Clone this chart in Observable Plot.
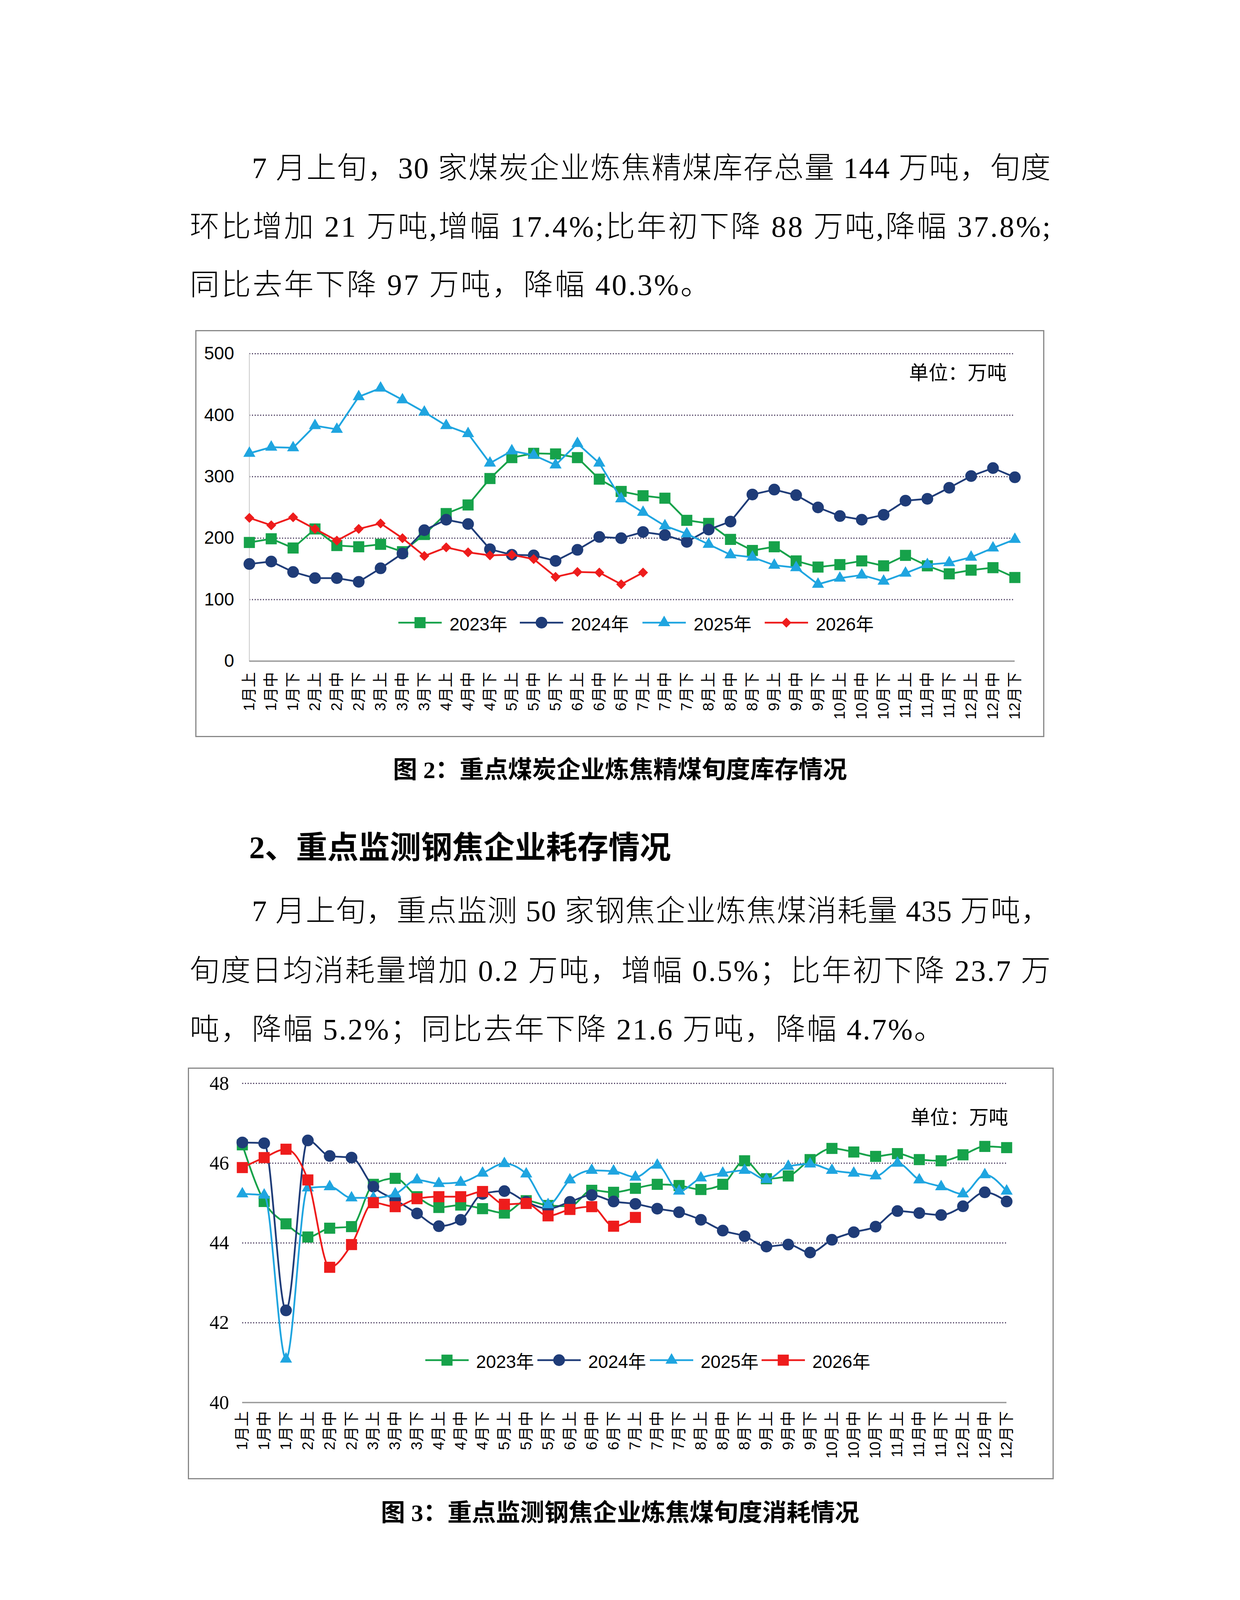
<!DOCTYPE html>
<html>
<head>
<meta charset="utf-8">
<script src="https://cdn.jsdelivr.net/npm/d3@7"></script>
<script src="https://cdn.jsdelivr.net/npm/@observablehq/plot@0.6"></script>
<style>
  html, body { margin: 0; padding: 0; background: #fff; }
  body { width: 3175px; height: 4490px; position: relative; overflow: hidden; }
  .ln { position: absolute; height: 150px; line-height: 150px; white-space: nowrap; font-weight: 300;
        font-size: 76px; font-family: "Liberation Serif", "Noto Sans CJK SC", serif; color: #000; }
  .head { position: absolute; left: 638px; height: 150px; line-height: 150px; font-size: 80px;
          font-weight: bold; font-family: "Liberation Serif", "Noto Sans CJK SC", serif; white-space: nowrap; }
  .cap { position: absolute; left: 0; width: 3175px; text-align: center; height: 150px; line-height: 150px;
         font-size: 62px; font-weight: bold; font-family: "Liberation Serif", "Noto Sans CJK SC", serif; white-space: nowrap; }
  .chart { position: absolute; }
  .frame { position: absolute; left: 0; top: 0; right: 0; bottom: 0; border: 3px solid #888; box-sizing: border-box; pointer-events: none; }
  .chart svg.plot { position: absolute; left: 0; top: 0; }
  .leg { position: absolute; height: 60px; display: flex; align-items: center; white-space: nowrap;
         font-family: "Liberation Sans", "Noto Sans CJK SC", sans-serif; font-size: 46px; color: #000; }
  .leg svg { display: block; }
</style>
</head>
<body>

<div class="ln fit" data-w="2045" style="left:645px; top:355px;"><span>7 月上旬，30 家煤炭企业炼焦精煤库存总量 144 万吨，旬度</span></div>
<div class="ln fit" data-w="2204" style="left:486px; top:505px;"><span>环比增加 21 万吨,增幅 17.4%;比年初下降 88 万吨,降幅 37.8%;</span></div>
<div class="ln" style="left:486px; top:654px;"><span class="nat">同比去年下降 97 万吨，降幅 40.3%。</span></div>

<div class="chart" id="c1" style="left:500px; top:845px; width:2174px; height:1042px;"></div>

<div class="cap" style="top:1896px;">图 2：重点煤炭企业炼焦精煤旬度库存情况</div>

<div class="head" style="top:2095px;">2、重点监测钢焦企业耗存情况</div>

<div class="ln fit" data-w="2045" style="left:645px; top:2257px;"><span>7 月上旬，重点监测 50 家钢焦企业炼焦煤消耗量 435 万吨，</span></div>
<div class="ln fit" data-w="2204" style="left:486px; top:2410px;"><span>旬度日均消耗量增加 0.2 万吨，增幅 0.5%；比年初下降 23.7 万</span></div>
<div class="ln" style="left:486px; top:2560px;"><span class="nat">吨，降幅 5.2%；同比去年下降 21.6 万吨，降幅 4.7%。</span></div>

<div class="chart" id="c2" style="left:481px; top:2733px; width:2217px; height:1054px;"></div>

<div class="cap" style="top:3798px;">图 3：重点监测钢焦企业炼焦煤旬度消耗情况</div>

<script>
// ---------- data ----------
const periods = ["1月上","1月中","1月下","2月上","2月中","2月下","3月上","3月中","3月下",
  "4月上","4月中","4月下","5月上","5月中","5月下","6月上","6月中","6月下",
  "7月上","7月中","7月下","8月上","8月中","8月下","9月上","9月中","9月下",
  "10月上","10月中","10月下","11月上","11月中","11月下","12月上","12月中","12月下"];

const years = ["2023年", "2024年", "2025年", "2026年"];

// Chart 1: 炼焦精煤库存 (万吨)
const inv2023 = [193,199,184,215,188,186,190,178,206,240,254,297,331,338,337,331,296,276,269,265,229,224,198,180,186,163,153,157,163,155,172,155,142,148,152,136];
const inv2024 = [158,162,145,135,135,129,151,175,213,230,223,182,173,172,163,181,202,200,210,205,194,214,227,271,279,270,250,236,230,238,261,264,282,301,314,299];
const inv2025 = [338,348,347,383,377,430,444,425,405,383,370,322,342,335,319,354,322,264,242,220,207,190,173,169,156,152,125,135,140,130,143,157,160,169,184,198];
const inv2026 = [233,221,234,215,196,215,224,200,171,185,177,172,173,166,137,145,144,125,144];
const invTicks = [0,100,200,300,400,500];

// Chart 2: 炼焦煤旬度日均消耗 (万吨)
const con2023 = [46.46,45.04,44.48,44.15,44.37,44.41,45.47,45.62,45.16,44.89,44.95,44.86,44.75,45.06,44.94,44.92,45.32,45.27,45.37,45.47,45.44,45.34,45.47,46.06,45.61,45.68,46.09,46.37,46.28,46.17,46.24,46.09,46.06,46.21,46.42,46.39];
const con2024 = [46.52,46.50,42.31,46.57,46.18,46.14,45.41,45.08,44.74,44.42,44.58,45.23,45.30,45.03,44.86,45.03,45.20,45.04,44.98,44.86,44.77,44.58,44.31,44.17,43.91,43.96,43.76,44.08,44.27,44.41,44.80,44.75,44.70,44.92,45.27,45.04];
const con2025 = [45.23,45.20,41.09,45.38,45.41,45.13,45.13,45.23,45.58,45.49,45.52,45.75,45.99,45.73,44.96,45.58,45.82,45.80,45.65,45.95,45.30,45.63,45.75,45.82,45.59,45.92,45.98,45.82,45.75,45.68,46.00,45.58,45.41,45.23,45.71,45.30];
const con2026 = [45.89,46.14,46.35,45.58,43.39,43.96,45.01,44.91,45.11,45.16,45.16,45.29,44.97,44.99,44.68,44.84,44.91,44.42,44.64];
const conTicks = [40,42,44,46,48];

const unitLabel = "单位：万吨";

// ---------- styles ----------
const colors = ["#16a24a", "#1f3c78", "#1fa5e0", "#ee1c1c"];
const sym1 = [["square",16],["circle",15],["triangle",11.5],["diamond2",11.5]];
const sym2 = [["square",16],["circle",15],["triangle",11.5],["square",16]];

function buildChart(el, o) {
  const marks = [];
  marks.push(Plot.ruleY(o.ticks.slice(1), {stroke: "#564869", strokeWidth: 3, strokeDasharray: "3,4"}));
  if (o.yAxisLine) marks.push(Plot.ruleX([periods[0]], {y1: o.ticks[0], y2: o.ticks[o.ticks.length-1], stroke: "#d2d2d2", strokeWidth: 2.5}));
  marks.push(Plot.ruleY([o.ticks[0]], {stroke: "#9a9a9a", strokeWidth: 3.5}));
  o.series.forEach((vals, k) => {
    const rows = vals.map((v, i) => ({x: periods[i], y: v}));
    marks.push(Plot.line(rows, {x: "x", y: "y", stroke: colors[k], strokeWidth: 4.5, curve: o.curve}));
    marks.push(Plot.dot(rows, {x: "x", y: "y", symbol: o.sym[k][0], r: o.sym[k][1], fill: colors[k], stroke: "none"}));
  });
  marks.push(Plot.axisX({label: null, tickRotate: -90, tickSize: 0, tickPadding: o.xPad, fontSize: 39,
    fontFamily: '"Liberation Sans", "Noto Sans CJK SC", sans-serif'}));
  marks.push(Plot.axisY({label: null, ticks: o.ticks, tickSize: 0, tickPadding: o.yPad, fontSize: o.yFont,
    fontFamily: o.yFamily, tickFormat: d => String(d)}));
  marks.push(Plot.text([unitLabel], {text: d => d, frameAnchor: "top-right", textAnchor: "end",
    dx: o.unitDx, dy: o.unitDy, fontSize: 50, fontFamily: '"Noto Sans CJK SC", sans-serif'}));

  const svg = Plot.plot({
    width: o.W, height: o.H,
    marginLeft: o.mL, marginRight: o.mR, marginTop: o.mT, marginBottom: o.mB,
    x: {type: "point", domain: periods, padding: 0, axis: null},
    y: {domain: [o.ticks[0], o.ticks[o.ticks.length-1]], axis: null},
    style: {background: "transparent", overflow: "visible", fontFamily: '"Liberation Sans", "Noto Sans CJK SC", sans-serif', color: "#000"},
    marks
  });
  svg.classList.add("plot");
  svg.style.maxWidth = "none";
  el.appendChild(svg);

  const fr = document.createElement("div");
  fr.className = "frame";
  el.appendChild(fr);

  // legend
  const symMap = {square: d3.symbolSquare, circle: d3.symbolCircle, triangle: d3.symbolTriangle, diamond2: d3.symbolDiamond2};
  o.legendX.forEach((lx, k) => {
    const item = document.createElement("div");
    item.className = "leg";
    item.style.left = lx + "px";
    item.style.top = (o.legendY - 30) + "px";
    const s = d3.create("svg").attr("width", 111).attr("height", 60);
    s.append("line").attr("x1", 0).attr("x2", 111).attr("y1", 30).attr("y2", 30)
      .attr("stroke", colors[k]).attr("stroke-width", 4.5);
    const [nm, r] = o.sym[k];
    s.append("path").attr("transform", "translate(55.5,30)")
      .attr("d", d3.symbol(symMap[nm], Math.PI * r * r)()).attr("fill", colors[k]);
    item.appendChild(s.node());
    const t = document.createElement("span");
    t.textContent = years[k];
    t.style.marginLeft = o.legendGap + "px";
    item.appendChild(t);
    el.appendChild(item);
  });
}

buildChart(document.getElementById("c1"), {
  W: 2174, H: 1042, mL: 138, mR: 76, mT: 60, mB: 195,
  ticks: invTicks, series: [inv2023, inv2024, inv2025, inv2026], sym: sym1,
  curve: "linear", yAxisLine: true, xPad: 28, yPad: 39, yFont: 46,
  yFamily: '"Liberation Sans", sans-serif',
  unitDx: -21, unitDy: 31,
  legendX: [520, 831, 1145, 1458], legendY: 749, legendGap: 20
});

buildChart(document.getElementById("c2"), {
  W: 2217, H: 1054, mL: 139, mR: 121, mT: 40, mB: 197,
  ticks: conTicks, series: [con2023, con2024, con2025, con2026], sym: sym2,
  curve: "monotone-x", yAxisLine: false, xPad: 22, yPad: 34, yFont: 50,
  yFamily: '"Liberation Serif", serif',
  unitDx: 4, unitDy: 69,
  legendX: [608, 895, 1183, 1469], legendY: 749, legendGap: 19
});

// distribute characters evenly over each full-width text line
function fitLines() {
  document.querySelectorAll(".ln.fit").forEach(el => {
    const span = el.querySelector("span");
    span.style.letterSpacing = "0px";
    const w = span.getBoundingClientRect().width;
    const n = Array.from(span.textContent).length;
    const target = +el.dataset.w;
    const ls = (target - w) / (n - 1);
    span.style.letterSpacing = ls + "px";
  });
  const fits = Array.from(document.querySelectorAll(".ln.fit span"));
  const nats = Array.from(document.querySelectorAll(".ln span.nat"));
  nats.forEach((s, i) => {
    const ref = fits[i * 2 + 1];
    if (ref) s.style.letterSpacing = ref.style.letterSpacing;
  });
}
fitLines();
if (document.fonts && document.fonts.ready) document.fonts.ready.then(fitLines);
</script>
</body>
</html>
